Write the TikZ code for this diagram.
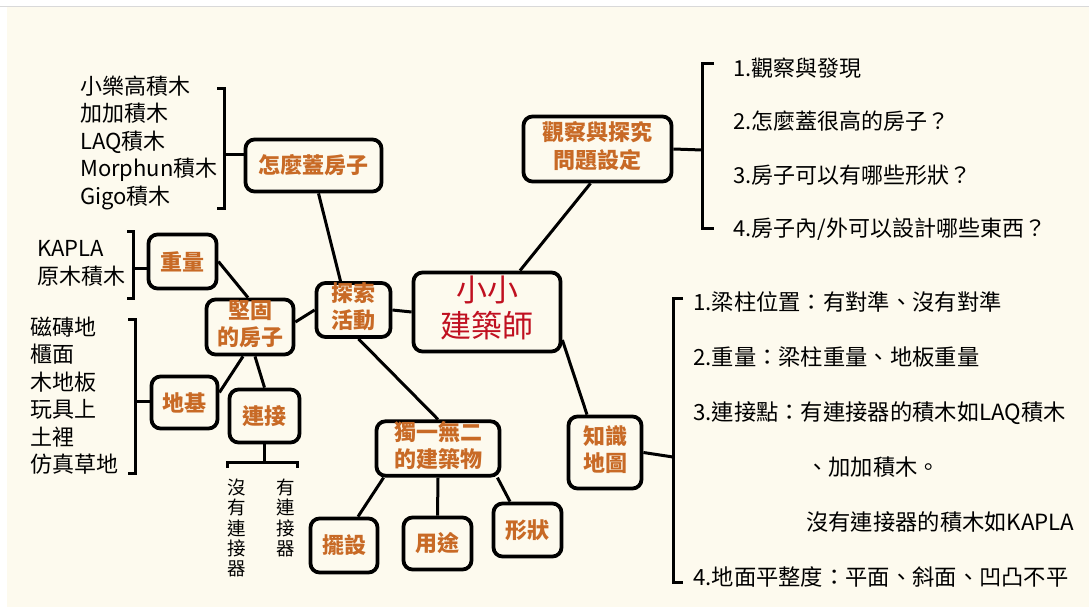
\documentclass[tikz,border=0pt]{standalone}
\usepackage{fontspec}
\setmainfont{Noto Sans CJK TC}
\usepackage{tikz}
\usetikzlibrary{positioning}
\definecolor{paper}{RGB}{253,250,238}
\definecolor{boxorange}{RGB}{200,106,38}
\definecolor{mainred}{RGB}{192,16,32}
\tikzset{
    state/.style={
           rectangle,
           rounded corners=9pt,
           draw=black, line width=3.8pt,
           fill=paper,
           text=boxorange,
           font=\bfseries\fontsize{22}{27}\selectfont,
           inner sep=0pt,
           text centered,
           },
    state2/.style={
           state,
           text=mainred,
           font=\fontsize{31}{34}\selectfont,
           },
    phantom/.style={
           rectangle,
           inner sep=0pt,
           anchor=west,
           text height=19.4pt,
           text depth=2.6pt,
           font=\fontsize{22}{26}\selectfont,
           },
    phantom2/.style={
           phantom,
           text height=19.6pt,
           text depth=2.7pt,
           font=\fontsize{22.3}{27}\selectfont,
           },
    stem/.style={
           inner sep=0pt,
           align=center,
           font=\fontsize{18.5}{20.3}\selectfont,
           },
    bracket/.style={
           line width=3pt,
           },
}
\begin{document}
\begin{tikzpicture}
[
x=1pt, y=-1pt,
every edge/.style={draw=black, line width=3pt}
]

 % page
 \useasboundingbox (0,0) rectangle (1089,607);
 \fill[white] (0,0) rectangle (1089,607);
 \fill[paper] (7,7) rectangle (1089,607);
 \draw[black!15, line width=0.8pt] (0,6.5) -- (1089,6.5);

 % Centre node
 \node[state2, minimum width=147pt, minimum height=79pt] (MAIN) at (487,312)
 {%
 \begin{tabular}{@{}c@{}}
  小小\\建築師
 \end{tabular}
 };

 % Next node: explore
 \node[state, minimum width=74pt, minimum height=51pt] (EXPLORE) at (353.5,310)
 {%
 \begin{tabular}{@{}c@{}}
  探索\\活動
 \end{tabular}
 };

 \node[state, minimum width=136pt, minimum height=52pt] (HOUSE) at (313.5,165.5)
 {%
 怎麼蓋房子
 };

 \node[state, minimum width=87pt, minimum height=55pt] (STRONG) at (250,327)
 {%
 \begin{tabular}{@{}c@{}}
  堅固\\的房子
 \end{tabular}
 };

 \node[state, minimum width=68pt, minimum height=54pt] (WEIGHT) at (182.5,261.5)
 {%
 重量
 };

 \node[state, minimum width=66pt, minimum height=52pt] (BASE) at (184.5,402.5)
 {%
 地基
 };

 \node[state, minimum width=70pt, minimum height=53pt] (LINK) at (264.5,416)
 {%
 連接
 };

 % Next node: unique building
 \node[state, minimum width=123pt, minimum height=50pt] (UNIQUE) at (438,448.5)
 {%
 \begin{tabular}{@{}c@{}}
  獨一無二\\的建築物
 \end{tabular}
 };

 \node[state, minimum width=67pt, minimum height=54pt] (SET) at (344,545.5)
 {%
 擺設
 };

 \node[state, minimum width=68pt, minimum height=52pt] (USE) at (437.5,543.5)
 {%
 用途
 };

 \node[state, minimum width=68pt, minimum height=53pt] (SHAPE) at (527.5,530)
 {%
 形狀
 };

 % Next node: observe
 \node[state, minimum width=148pt, minimum height=65pt] (OBSERVE) at (597.5,149)
 {%
 \begin{tabular}{@{}c@{}}
  觀察與探究\\問題設定
 \end{tabular}
 };

 % Next node: knowledge map
 \node[state, minimum width=73pt, minimum height=72pt] (KNOW) at (605,452.5)
 {%
 \begin{tabular}{@{}c@{}}
  知識\\地圖
 \end{tabular}
 };

 % draw the paths
 \path
 ([xshift=5pt]HOUSE.south) edge ([xshift=-13pt]EXPLORE.north)
 (WEIGHT.east) edge ([xshift=-2pt]STRONG.north)
 ([yshift=5pt]STRONG.east) edge (EXPLORE.west)
 (EXPLORE.east) edge (MAIN.west)
 ([xshift=5pt]EXPLORE.south) edge (UNIQUE.north)
 ([xshift=-7pt]STRONG.south) edge ([yshift=10pt]BASE.east)
 ([xshift=5pt]STRONG.south) edge (LINK.north)
 ([xshift=9pt]UNIQUE.south west) edge ([xshift=14pt]SET.north)
 (UNIQUE.south) edge (USE.north)
 ([xshift=-4pt]UNIQUE.south east) edge ([xshift=-17.5pt]SHAPE.north)
 ([xshift=33pt]MAIN.north) edge ([xshift=-7pt]OBSERVE.south)
 ([yshift=-28pt]MAIN.east) edge ([xshift=-18pt]KNOW.north)
 ;

 % blocks for the house
 \node[phantom] (HOUSE1) at (80,86) {小樂高積木};
 \node[phantom, below=5pt of HOUSE1.south west, anchor=north west] (HOUSE2) {加加積木};
 \node[phantom, below=5pt of HOUSE2.south west, anchor=north west] (HOUSE3) {LAQ積木};
 \node[phantom, below=5pt of HOUSE3.south west, anchor=north west] (HOUSE4) {Morphun積木};
 \node[phantom, below=5pt of HOUSE4.south west, anchor=north west] (HOUSE5) {Gigo積木};
 \coordinate (HOUSEBR) at (224,154);
 \draw[bracket] (217,89) -- (224,89) -- (224,208) -- (217,208);
 \draw[bracket] (HOUSEBR) -- (HOUSEBR -| HOUSE.west);

 % weight
 \node[phantom] (WEIGHT1) at (37,248) {KAPLA};
 \node[phantom, below=6pt of WEIGHT1.south west, anchor=north west] (WEIGHT2) {原木積木};
 \coordinate (WEIGHTBR) at (133,268);
 \draw[bracket] (127,231) -- (133,231) -- (133,298) -- (127,298);
 \draw[bracket] (WEIGHTBR) -- (WEIGHTBR -| WEIGHT.west);

 % ground
 \node[phantom] (BASE1) at (30,327) {磁磚地};
 \node[phantom, below=5pt of BASE1.south west, anchor=north west] (BASE2) {櫃面};
 \node[phantom, below=5pt of BASE2.south west, anchor=north west] (BASE3) {木地板};
 \node[phantom, below=5pt of BASE3.south west, anchor=north west] (BASE4) {玩具上};
 \node[phantom, below=5pt of BASE4.south west, anchor=north west] (BASE5) {土裡};
 \node[phantom, below=5pt of BASE5.south west, anchor=north west] (BASE6) {仿真草地};
 \coordinate (BASEBR) at (135,401);
 \draw[bracket] (128,319) -- (135,319) -- (135,473) -- (128,473);
 \draw[bracket] (BASEBR) -- (BASEBR -| BASE.west);

 % connectors
 \coordinate (LINKBR) at (264.5,462);
 \draw[bracket] (227,468) -- (227,462) -- (297,462) -- (297,468);
 \draw[bracket] (LINK.south) -- (LINKBR);
 \node[stem] (LINK1) at (237,528) {沒\\有\\連\\接\\器};
 \node[stem] (LINK2) at (286,518) {有\\連\\接\\器};

 % questions
 \node[phantom] (OBS1) at (733,68) {1.觀察與發現};
 \node[phantom, below=31pt of OBS1.south west, anchor=north west] (OBS2) {2.怎麼蓋很高的房子？};
 \node[phantom, below=31pt of OBS2.south west, anchor=north west] (OBS3) {3.房子可以有哪些形狀？};
 \node[phantom, below=31pt of OBS3.south west, anchor=north west] (OBS4) {4.房子內/外可以設計哪些東西？};
 \coordinate (OBSBR) at (702,150);
 \draw[bracket] (714,64) -- (702,64) -- (702,228) -- (714,228);
 \draw[bracket] (OBSERVE.east) -- (OBSBR);

 % knowledge
 \node[phantom2] (KNOW1) at (693,302) {1.梁柱位置：有對準、沒有對準};
 \node[phantom2, below=32.3pt of KNOW1.south west, anchor=north west] (KNOW2) {2.重量：梁柱重量、地板重量};
 \node[phantom2, below=32.3pt of KNOW2.south west, anchor=north west] (KNOW3) {3.連接點：有連接器的積木如LAQ積木};
 \node[phantom2, below=32.3pt of KNOW3.south west, anchor=north west, xshift=113pt] (KNOW4) {、加加積木。};
 \node[phantom2, below=32.3pt of KNOW4.south west, anchor=north west] (KNOW5) {沒有連接器的積木如KAPLA};
 \node[phantom2, below=32.3pt of KNOW5.south west, anchor=north west, xshift=-113pt] (KNOW6) {4.地面平整度：平面、斜面、凹凸不平};
 \coordinate (KNOWBR) at (673,457);
 \draw[bracket] (683,298) -- (673,298) -- (673,582) -- (683,582);
 \draw[bracket] (KNOW.east) -- (KNOWBR);

\end{tikzpicture}
\end{document}
